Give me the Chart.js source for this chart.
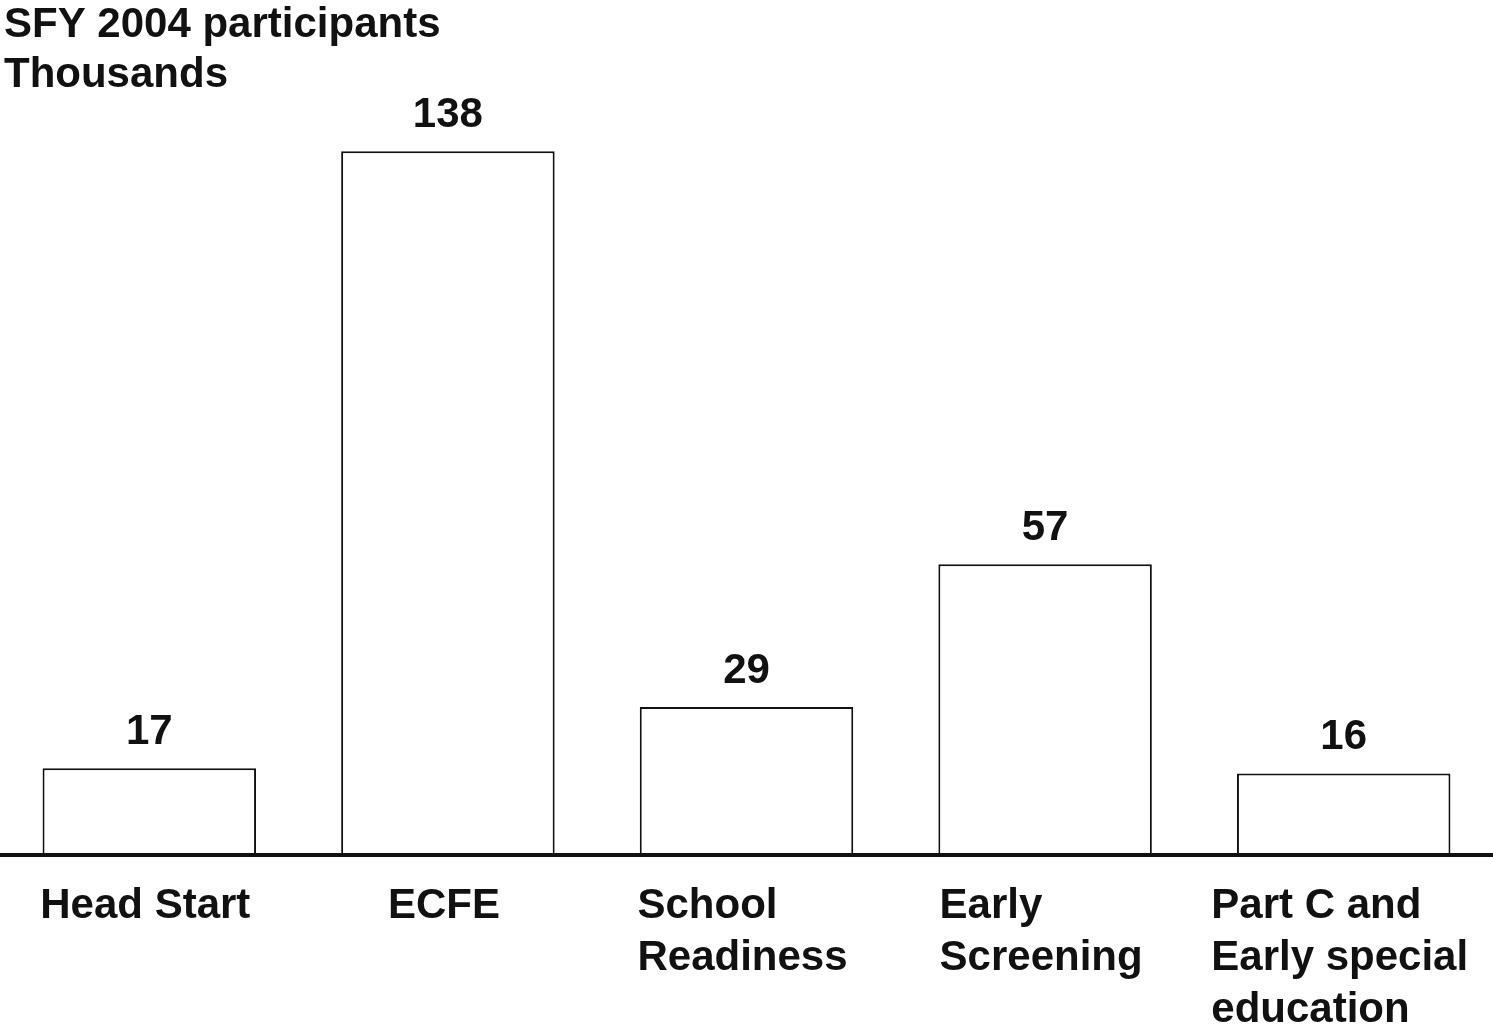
<!DOCTYPE html>
<html><head><meta charset="utf-8">
<script src="https://cdn.jsdelivr.net/npm/chart.js@4"></script>
<style>html,body{margin:0;padding:0;background:#fff;overflow:hidden}#wrap{width:1493px;height:1024px}</style>
</head><body><div id="wrap"><canvas id="c" width="1493" height="1024"></canvas></div>
<script>
const categories = [["Head Start"], ["ECFE"], ["School", "Readiness"], ["Early", "Screening"], ["Part C and", "Early special", "education"]];
const values = [17, 138, 29, 57, 16];
const titleLines = ["SFY 2004 participants", "Thousands"];
const yMax = 150;

const FONT = 'bold 42px "Liberation Sans", Arial, Helvetica, sans-serif';
const INK = '#111';

const textPlugin = {
  id: 'textPlugin',
  afterDraw(chart) {
    const ctx = chart.ctx;
    ctx.save();
    ctx.font = FONT;
    ctx.fillStyle = INK;
    ctx.textBaseline = 'alphabetic';
    // title
    ctx.textAlign = 'left';
    titleLines.forEach((t, i) => ctx.fillText(t, 4, 37 + i * 50));
    // value labels
    const meta = chart.getDatasetMeta(0);
    ctx.textAlign = 'center';
    meta.data.forEach((bar, i) => {
      ctx.fillText(String(values[i]), bar.x, bar.y - 24);
    });
    // category labels (block centred, lines left-aligned)
    const xs = chart.scales.x;
    const base = chart.chartArea.bottom + 63;
    ctx.textAlign = 'left';
    categories.forEach((lines, i) => {
      const c = xs.getPixelForValue(i) - 4;
      const w = Math.max(...lines.map(l => ctx.measureText(l).width));
      const x0 = c - w / 2;
      lines.forEach((l, j) => ctx.fillText(l, x0, base + j * 52));
    });
    ctx.restore();
  }
};

new Chart(document.getElementById('c'), {
  type: 'bar',
  data: {
    labels: categories.map(l => l.join(' ')),
    datasets: [{
      data: values,
      backgroundColor: '#ffffff',
      borderColor: INK,
      borderWidth: 2,
      barPercentage: 0.715,
      categoryPercentage: 1.0
    }]
  },
  options: {
    responsive: false,
    animation: false,
    layout: { padding: { top: 855 - 5.1 * yMax, left: 0, right: 0, bottom: 0 } },
    plugins: { legend: { display: false }, tooltip: { enabled: false }, title: { display: false } },
    scales: {
      x: {
        grid: { display: false },
        ticks: { display: false },
        border: { display: true, color: INK, width: 4, z: 1 },
        afterFit(scale) { scale.height = 169; }
      },
      y: {
        display: false,
        min: 0,
        max: yMax
      }
    }
  },
  plugins: [textPlugin]
});
</script>
</body></html>
